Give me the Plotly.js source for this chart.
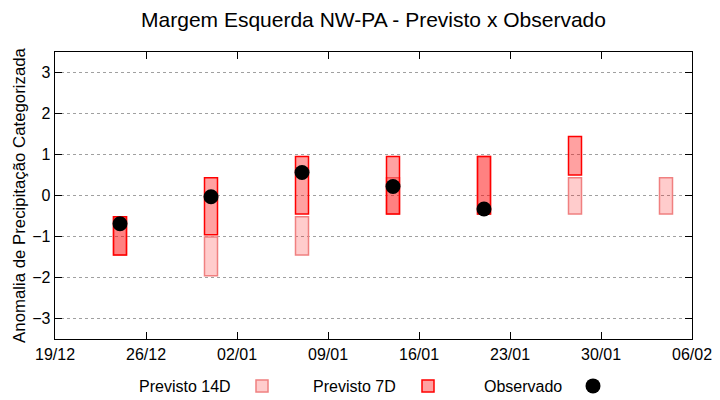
<!DOCTYPE html>
<html><head><meta charset="utf-8">
<script src="https://cdn.plot.ly/plotly-3.0.1.min.js"></script>
<style>html,body{margin:0;padding:0;background:#fff}#c{width:720px;height:400px}</style>
</head><body><div id="c"></div>
<script>
const dates = ['2023-12-24','2023-12-31','2024-01-07','2024-01-14','2024-01-21','2024-01-28','2024-02-04'];
const p14Low  = [-1.45, -1.96, -1.45, -0.45, -0.45, -0.45, -0.45];
const p14High = [-0.52, -1.01, -0.52,  0.43,  0.95,  0.43,  0.43];
const p7Low   = [-1.45, -0.96, -0.45, -0.45, -0.45,  0.50, null];
const p7High  = [-0.52,  0.43,  0.95,  0.95,  0.95,  1.44, null];
const obsDates = ['2023-12-24','2023-12-31','2024-01-07','2024-01-14','2024-01-21'];
const obsVals  = [-0.69, -0.03, 0.56, 0.22, -0.33];
const tickDates = ['2023-12-19','2023-12-26','2024-01-02','2024-01-09','2024-01-16','2024-01-23','2024-01-30','2024-02-06'];
const tickText  = ['19/12','26/12','02/01','09/01','16/01','23/01','30/01','06/02'];
const seriesNames = ['Previsto 14D','Previsto 7D','Observado'];

const DAY = 86400000;
const diff = (hi, lo) => hi.map((h, i) => (h === null || lo[i] === null) ? null : h - lo[i]);

const traces = [
  {type:'bar', name:'', legendgroup:seriesNames[0], legendwidth:111, x:dates, y:diff(p14High,p14Low), base:p14Low,
   width:DAY, marker:{color:'rgba(255,0,0,0.2)', line:{color:'rgb(240,128,128)', width:1.5}}},
  {type:'bar', name:'', legendgroup:seriesNames[1], legendwidth:110, x:dates, y:diff(p7High,p7Low), base:p7Low,
   width:DAY, marker:{color:'rgba(255,0,0,0.37)', line:{color:'rgb(255,0,0)', width:1.5}}},
  {type:'scatter', mode:'markers', name:'', legendgroup:seriesNames[2], legendwidth:10, x:obsDates, y:obsVals,
   marker:{color:'#000', size:15, symbol:'circle'}}
];

// legend labels drawn to the left of each legend sample (gnuplot style)
const PL = 55, PW = 637, PT = 52, PH = 287;
const labelRight = [233, 398, 564];
const legendY = -(386 - (PT + PH)) / PH;
const annotations = seriesNames.map((t, i) => ({
  text: t, xref:'paper', yref:'paper', x:(labelRight[i]-PL)/PW, y:legendY,
  xanchor:'right', yanchor:'middle', showarrow:false, font:{size:16, color:'#000'}
}));

const layout = {
  width:720, height:400,
  margin:{l:PL, r:720-PL-PW, t:PT, b:400-PT-PH, autoexpand:false},
  paper_bgcolor:'#fff', plot_bgcolor:'#fff',
  font:{family:'Liberation Sans, Arial, sans-serif', size:16, color:'#000'},
  title:{text:'Margem Esquerda NW-PA - Previsto x Observado', xref:'paper', x:0.5, xanchor:'center', y:0.95, yanchor:'middle',
         font:{size:21, color:'#000'}},
  barmode:'overlay',
  showlegend:true,
  legend:{orientation:'h', x:(262-25-PL)/PW, xanchor:'left', y:legendY, yanchor:'middle',
          font:{size:16}, bgcolor:'rgba(0,0,0,0)', traceorder:'normal', itemwidth:40},
  annotations: annotations,
  xaxis:{type:'date', range:['2023-12-19','2024-02-06'], tickvals:tickDates, ticktext:tickText,
         ticks:'inside', ticklen:7, tickcolor:'#000', showline:true, linecolor:'#000', linewidth:1.3,
         mirror:'ticks', showgrid:false, zeroline:false, tickfont:{size:16}},
  yaxis:{range:[-3.5,3.5], tickvals:[-3,-2,-1,0,1,2,3], ticks:'inside', ticklen:7, tickcolor:'#000',
         showline:true, linecolor:'#000', linewidth:1.3, mirror:'ticks',
         showgrid:true, gridcolor:'#a0a0a0', griddash:'dot', gridwidth:1, zeroline:false,
         tickfont:{size:16},
         title:{text:'Anomalia de Precipitação Categorizada', font:{size:16.8}, standoff:2}}
};
Plotly.newPlot('c', traces, layout, {displayModeBar:false, staticPlot:true});
</script></body></html>
